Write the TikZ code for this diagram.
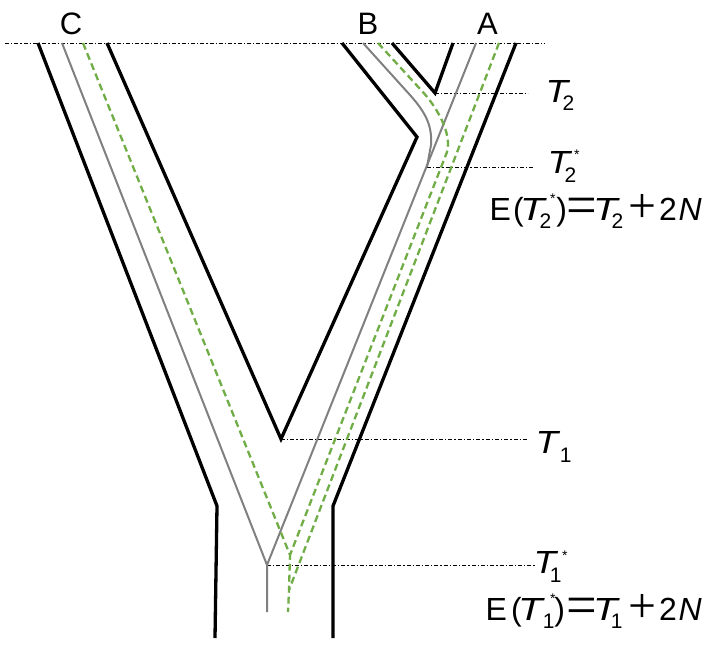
\documentclass[tikz,border=0pt]{standalone}
\usepackage{fontspec}
\setmainfont{Liberation Sans}
\newfontfamily\opfont{Liberation Serif}
\usepackage{graphicx}
\definecolor{lgreen}{RGB}{112,173,71}
\definecolor{lgrey}{RGB}{128,128,128}
% a piece of text placed at a fixed offset from the start of its node
\newcommand{\pc}[2]{\rlap{\kern#1pt #2}}
\newcommand{\Tit}{\scalebox{1.15}[1]{\textit{T}}}
\newcommand{\Teq}{\scalebox{1.25}[1]{\textit{T}}}
\newcommand{\subf}[2][8pt]{\raisebox{-#1}{\fontsize{21}{21}\selectfont #2}}
\newcommand{\starf}[1]{\raisebox{#1}{\fontsize{14}{14}\selectfont *}}
\newcommand{\myeq}{\raisebox{-4.1pt}{\scalebox{1.7}[1.8]{\opfont=}}}
\newcommand{\myplus}{\raisebox{-2pt}{\scalebox{1.55}{\opfont+}}}
\begin{document}
\begin{tikzpicture}[x=1pt,y=-1pt,
  blk/.style={line width=3.3pt, line join=miter},
  gry/.style={line width=2pt, draw=lgrey},
  grn/.style={line width=2.3pt, draw=lgreen, dash pattern=on 7pt off 4pt},
  dd/.style={line width=0.9pt, dash pattern=on 4pt off 2pt on 1.3pt off 2pt},
  lab/.style={inner sep=0pt, anchor=base west, font=\fontsize{32}{34}\selectfont},
  tip/.style={inner sep=0pt, anchor=base, font=\fontsize{31}{33}\selectfont},
  eqn/.style={inner sep=0pt, anchor=base west, font=\fontsize{32}{34}\selectfont}]
\useasboundingbox (0,0) rectangle (712,648);
% key points
\coordinate (topL) at (5,43);
\coordinate (topR) at (545,43);
\coordinate (vT2) at (435,93);
\coordinate (eT2) at (528,93);
\coordinate (vT2s) at (427,167);
\coordinate (eT2s) at (534,167);
\coordinate (vT1) at (281,439);
\coordinate (eT1) at (527,439);
\coordinate (vT1s) at (267,565);
\coordinate (eT1s) at (535,565);
\coordinate (J1) at (290,555);
\coordinate (J2) at (289,590);
% time lines
\draw[dd] (topL) -- (topR);
\draw[dd] (vT2) -- (eT2);
\draw[dd] (vT2s) -- (eT2s);
\draw[dd] (vT1) -- (eT1);
\draw[dd] (vT1s) -- (eT1s);
% gene lineages (grey)
\draw[gry] (62,43) -- (vT1s) -- (267,612);
\draw[gry] (476,43) -- (vT1s);
\draw[gry] (363,43) -- (410,95) .. controls (428,115) and (432,128) .. (431,145) -- (vT2s);
% gene lineages (green dashed)
\draw[grn] (83,43) -- (J1) -- (J2) -- (288,612);
\draw[grn] (378,43) -- (421,90) .. controls (437,107) and (452,133) .. (447,152) -- (J1);
\draw[grn] (499,43) -- (J2);
% species tree (black)
\draw[blk] (38,43) -- (217,506) -- (215,638);
\draw[blk] (107,43) -- (vT1) -- (417,137) -- (342,43);
\draw[blk] (392,43) -- (vT2) -- (453,43);
\draw[blk] (516,43) -- (333,506) -- (333,638);
% labels
\node[tip] (C) at (71,34) {C};
\node[tip] (B) at (368,34) {B};
\node[tip] (A) at (487.5,34) {A};
\node[lab] (T2) at (545.5,102) {\pc{0}{\Tit}\pc{16.9}{\subf{2}}\kern30pt};
\node[lab] (T2s) at (547.5,173) {\pc{0}{\Tit}\pc{16.9}{\subf[9pt]{2}}\pc{26.45}{\starf{13.2pt}}\kern30pt};
\node[eqn] (E2) at (480,220) {\pc{9.5}{E}\pc{33}{(}\pc{40}{\Teq}\pc{59.4}{\subf{2}}\pc{69.95}{\starf{17pt}}\pc{76.2}{)}\pc{86.15}{\myeq}\pc{113}{\Teq}\pc{131.4}{\subf{2}}\pc{148.5}{\myplus}\pc{179}{2}\pc{198.4}{\textit{N}}\kern222pt};
\node[lab] (T1) at (535.5,453) {\pc{0}{\Tit}\pc{24.2}{\subf[9pt]{1}}\kern34pt};
\node[lab] (T1s) at (533.5,573) {\pc{0}{\Tit}\pc{16.2}{\subf[9pt]{1}}\pc{28.45}{\starf{12.2pt}}\kern30pt};
\node[eqn] (E1) at (480,620) {\pc{5.5}{E}\pc{31}{(}\pc{38}{\Teq}\pc{62.7}{\subf{1}}\pc{69.95}{\starf{17pt}}\pc{74.2}{)}\pc{86.15}{\myeq}\pc{113}{\Teq}\pc{130.7}{\subf{1}}\pc{148.5}{\myplus}\pc{179}{2}\pc{198.4}{\textit{N}}\kern222pt};
\end{tikzpicture}
\end{document}
